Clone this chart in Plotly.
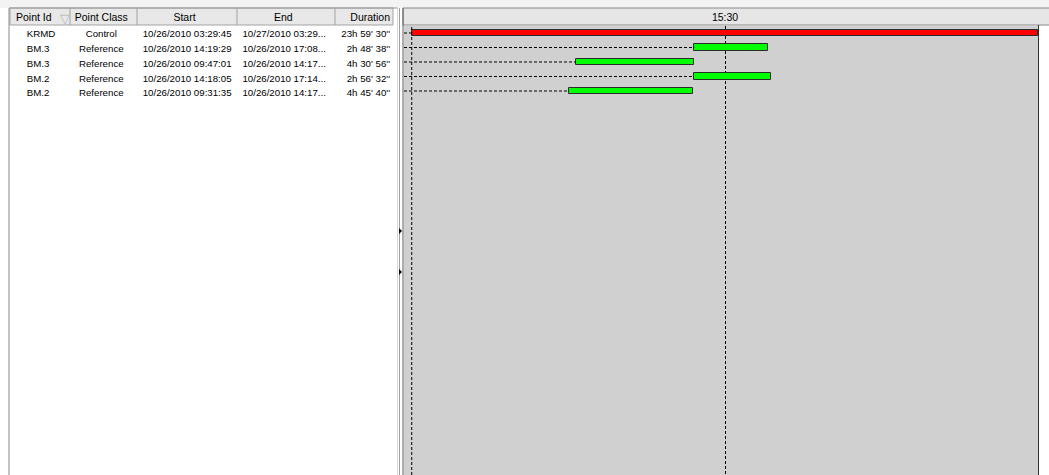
import plotly.graph_objects as go
from datetime import datetime

# ---------------- data ----------------
point_ids = ["KRMD", "BM.3", "BM.3", "BM.2", "BM.2"]
point_classes = ["Control", "Reference", "Reference", "Reference", "Reference"]
start_labels = ["10/26/2010 03:29:45", "10/26/2010 14:19:29", "10/26/2010 09:47:01",
                "10/26/2010 14:18:05", "10/26/2010 09:31:35"]
end_labels = ["10/27/2010 03:29...", "10/26/2010 17:08...", "10/26/2010 14:17...",
              "10/26/2010 17:14...", "10/26/2010 14:17..."]
duration_labels = ["23h 59' 30''", "2h 48' 38''", "4h 30' 56''", "2h 56' 32''", "4h 45' 40''"]
column_headers = ["Point Id", "Point Class", "Start", "End", "Duration"]
tick_times = ["2010-10-26 15:30:00"]
tick_labels = ["15:30"]
axis_range = ["2010-10-26 03:12:00", "2010-10-27 03:30:30"]
class_colors = {"Control": "#ff0000", "Reference": "#00ff00"}

# ---------------- layout constants (pixels) ----------------
W, H = 1049, 475
NB = "\u00a0"
header_edges = [10, 70, 137, 237, 335, 393]


def px_x(p):
    return p / W


def px_y(p):
    return 1 - p / H


def nowrap(s):
    return str(s).replace(" ", NB)


def parse_duration(s):
    h, rest = s.split("h")
    m, rest = rest.split("'", 1)
    sec = rest.replace("'", "").strip()
    return int(h) * 3600 + int(m) * 60 + int(sec)


starts = [datetime.strptime(s, "%m/%d/%Y %H:%M:%S") for s in start_labels]
durations = [parse_duration(d) for d in duration_labels]
rows = list(range(len(point_ids)))
start_iso = [s.strftime("%Y-%m-%d %H:%M:%S") for s in starts]

fig = go.Figure()

# dashed guide lines from the left edge of the timeline to each bar start
gx, gy = [], []
for r, s in zip(rows, start_iso):
    gx += [axis_range[0], s, None]
    gy += [r, r, None]
fig.add_trace(go.Scatter(x=gx, y=gy, mode="lines", hoverinfo="skip", showlegend=False,
                         line=dict(color="#000000", width=1, dash="3px,2px")))

# Gantt bars
fig.add_trace(go.Bar(
    orientation="h", y=rows, base=start_iso, x=[d * 1000 for d in durations],
    width=0.42, showlegend=False,
    marker=dict(color=[class_colors[c] for c in point_classes],
                line=dict(color="#2b2b2b", width=1)),
    hovertext=point_ids,
))

# left table (header box is drawn as chrome below; table fills are transparent)
CLEAR = "rgba(0,0,0,0)"
fig.add_trace(go.Table(
    domain=dict(x=[px_x(8), px_x(399)], y=[0, px_y(5)]),
    columnwidth=[60, 67, 100, 98, 66],
    header=dict(
        values=[nowrap(h) for h in column_headers],
        align=["left", "center", "center", "center", "right"],
        fill_color=CLEAR, line=dict(color=CLEAR, width=0),
        font=dict(family="Liberation Sans", size=10.5, color="#000000"), height=17),
    cells=dict(
        values=[[NB * 4 + nowrap(p) for p in point_ids],
                [nowrap(v) for v in point_classes],
                [nowrap(v) for v in start_labels],
                [nowrap(v) for v in end_labels],
                [nowrap(v) for v in duration_labels]],
        align=["left", "center", "left", "left", "right"],
        fill_color=CLEAR, line=dict(color=CLEAR, width=0),
        font=dict(family="Liberation Sans", size=9.7, color="#000000"), height=14.75),
))

# sort indicator in the first header cell
fig.add_annotation(text="\u25bd", xref="paper", yref="paper", x=px_x(58), y=px_y(9),
                   showarrow=False, font=dict(family="DejaVu Sans", size=13, color="#b4b4b4"))

# vertical dashed marker at the earliest start
t0 = min(start_iso)
fig.add_shape(type="line", xref="x", yref="paper", x0=t0, x1=t0, y0=0, y1=px_y(26),
              line=dict(color="#000000", width=1, dash="3px,2px"))

# chrome: top band, header strips, panel borders
shapes = [
    dict(type="rect", xref="paper", yref="paper", x0=0, x1=1, y0=px_y(0), y1=px_y(8),
         fillcolor="#f3f3f3", line=dict(width=0), layer="below"),
    dict(type="rect", xref="paper", yref="paper", x0=px_x(403), x1=1.01, y0=px_y(25), y1=px_y(8),
         fillcolor="#e6e6e6", line=dict(color="#8a8a8a", width=1), layer="below"),
    dict(type="rect", xref="paper", yref="paper", x0=px_x(header_edges[0]), x1=px_x(header_edges[-1]),
         y0=px_y(25), y1=px_y(8), fillcolor="#e8e8e8", line=dict(color="#a3a3a3", width=1), layer="below"),
    dict(type="line", xref="paper", yref="paper", x0=px_x(9), x1=px_x(9), y0=0, y1=px_y(8),
         line=dict(color="#8a8a8a", width=1), layer="above"),
    dict(type="line", xref="paper", yref="paper", x0=px_x(397.5), x1=px_x(397.5), y0=0, y1=px_y(8),
         line=dict(color="#d8d8d8", width=1), layer="above"),
    dict(type="line", xref="paper", yref="paper", x0=px_x(399.5), x1=px_x(399.5), y0=0, y1=px_y(8),
         line=dict(color="#a0a0a0", width=1), layer="above"),
    dict(type="line", xref="paper", yref="paper", x0=px_x(403), x1=px_x(403), y0=0, y1=px_y(8),
         line=dict(color="#5a5a5a", width=1), layer="above"),
    dict(type="line", xref="paper", yref="paper", x0=px_x(1038.5), x1=px_x(1038.5), y0=0, y1=px_y(25),
         line=dict(color="#333333", width=1), layer="above"),
    dict(type="line", xref="paper", yref="paper", x0=px_x(9), x1=px_x(397.5), y0=px_y(8), y1=px_y(8),
         line=dict(color="#9a9a9a", width=1), layer="above"),
]
for e in header_edges[1:-1]:
    shapes.append(dict(type="line", xref="paper", yref="paper", x0=px_x(e), x1=px_x(e),
                       y0=px_y(25), y1=px_y(8), line=dict(color="#a3a3a3", width=1), layer="below"))
for yy in (231, 272):
    shapes.append(dict(type="path", xref="paper", yref="paper",
                       path=f"M {px_x(399)} {px_y(yy - 3)} L {px_x(402)} {px_y(yy)} L {px_x(399)} {px_y(yy + 3)} Z",
                       fillcolor="#000000", line=dict(width=0), layer="above"))
for s in shapes:
    fig.add_shape(**s)

fig.update_layout(
    width=W, height=H, margin=dict(l=0, r=0, t=0, b=0),
    paper_bgcolor="#ffffff", plot_bgcolor="#d0d0d0",
    bargap=0, showlegend=False,
    font=dict(family="Liberation Sans", size=10, color="#000000"),
    xaxis=dict(type="date", side="top", domain=[px_x(404), px_x(1038.5)], range=axis_range,
               tickvals=tick_times, ticktext=tick_labels, showgrid=True, gridcolor="#000000",
               gridwidth=1, griddash="3px,2px", ticks="", ticklabelstandoff=2,
               tickfont=dict(family="Liberation Sans", size=10.5, color="#000000"),
               showline=False, zeroline=False, fixedrange=True),
    yaxis=dict(domain=[0, px_y(26)], range=[30.49, -0.483], visible=False, fixedrange=True),
)

fig.write_html("out.html", config={"displayModeBar": False},
               post_script="document.body.style.margin='0';document.body.style.overflow='hidden';")
